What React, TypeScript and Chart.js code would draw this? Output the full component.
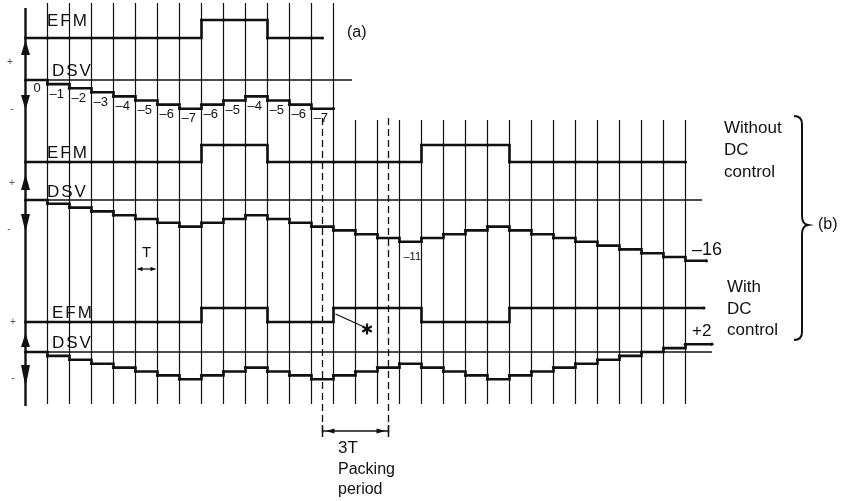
import React, { useEffect, useRef } from "react";
import { Chart, registerables } from "chart.js";

Chart.register(...registerables);

// ---------------- data ----------------
// clock-period boundaries (in units of T)
const clockEdges = [0, 1, 2, 3, 4, 5, 6, 7, 8, 9, 10, 11, 12, 13, 14, 15, 16, 17, 18, 19, 20, 21, 22, 23, 24, 25, 26, 27, 28, 29, 30];

// (a) EFM level per clock period (1 = high) and running DSV
const efmA = [0, 0, 0, 0, 0, 0, 0, 0, 1, 1, 1, 0, 0, 0];
const dsvA = [0, -1, -2, -3, -4, -5, -6, -7, -6, -5, -4, -5, -6, -7];

// (b) without DC control
const efmB = [0, 0, 0, 0, 0, 0, 0, 0, 1, 1, 1, 0, 0, 0, 0, 0, 0, 0, 1, 1, 1, 1, 0, 0, 0, 0, 0, 0, 0, 0];
const dsvB = [0, -1, -2, -3, -4, -5, -6, -7, -6, -5, -4, -5, -6, -7, -8, -9, -10, -11, -10, -9, -8, -7, -8, -9, -10, -11, -12, -13, -14, -15, -16];

// (b) with DC control
const efmC = [0, 0, 0, 0, 0, 0, 0, 0, 1, 1, 1, 0, 0, 0, 1, 1, 1, 1, 0, 0, 0, 0, 1, 1, 1, 1, 1, 1, 1, 1];
const dsvC = [0, -1, -2, -3, -4, -5, -6, -7, -6, -5, -4, -5, -6, -7, -6, -5, -4, -3, -4, -5, -6, -7, -6, -5, -4, -3, -2, -1, 0, 1, 2];

// packing period (3T) boundaries, in units of T
const packingPeriod = [13.5, 16.5];

// ---------------- layout / style ----------------
const W = 844;
const H = 501;
const X0 = 25.5; // pixel of t = 0
const TPX = 22; // pixels per T
const FONT = '"Liberation Sans", Arial, Helvetica, sans-serif';
const INK = "#111";

function rowAxis(zeroPx: number, ppu: number) {
  return {
    type: "linear" as const,
    axis: "y" as const,
    position: "left" as const,
    display: false,
    bounds: "data" as const,
    min: -(H - zeroPx) / ppu,
    max: zeroPx / ppu,
  };
}

function stepPoints(values: number[], endX: number) {
  const pts = values.map((v, i) => ({ x: i, y: v }));
  pts.push({ x: endX, y: values[values.length - 1] });
  return pts;
}

function lineDs(data: any[], yAxisID: string, width: number) {
  return {
    data,
    yAxisID,
    xAxisID: "x",
    stepped: "before" as const,
    borderColor: INK,
    borderWidth: width,
    pointRadius: 1.6,
    pointBackgroundColor: INK,
    pointBorderWidth: 0,
    fill: false,
    tension: 0,
  };
}

function txt(ctx: CanvasRenderingContext2D, s: string, x: number, y: number, size: number, align: CanvasTextAlign = "left", spacing = 0) {
  ctx.font = `${size}px ${FONT}`;
  ctx.textAlign = align;
  ctx.textBaseline = "middle";
  (ctx as any).letterSpacing = `${spacing}px`;
  ctx.fillText(s, x, y);
  (ctx as any).letterSpacing = "0px";
}

function tri(ctx: CanvasRenderingContext2D, tipX: number, tipY: number, baseX: number, baseY: number, half: number) {
  const dx = tipX - baseX;
  const dy = tipY - baseY;
  const len = Math.hypot(dx, dy) || 1;
  const nx = -dy / len;
  const ny = dx / len;
  ctx.beginPath();
  ctx.moveTo(tipX, tipY);
  ctx.lineTo(baseX + nx * half, baseY + ny * half);
  ctx.lineTo(baseX - nx * half, baseY - ny * half);
  ctx.closePath();
  ctx.fill();
}

function seg(ctx: CanvasRenderingContext2D, x1: number, y1: number, x2: number, y2: number) {
  ctx.beginPath();
  ctx.moveTo(x1, y1);
  ctx.lineTo(x2, y2);
  ctx.stroke();
}

const diagramPlugin = {
  id: "diagram",
  beforeDatasetsDraw(chart: any) {
    const ctx: CanvasRenderingContext2D = chart.ctx;
    const s = chart.scales;
    const X = (t: number) => s.x.getPixelForValue(t);
    const LY = (p: number) => s.ly.getPixelForValue(p);
    ctx.save();
    ctx.strokeStyle = INK;
    // clock grid
    for (const k of clockEdges) {
      const x = X(k);
      if (k === 0) {
        ctx.lineWidth = 2.4;
        seg(ctx, x, LY(8), x, LY(406));
      } else {
        ctx.lineWidth = 1.2;
        const top = k <= 14 ? LY(3) : LY(120);
        seg(ctx, x, top, x, LY(404));
      }
    }
    // DSV reference (zero) lines
    ctx.lineWidth = 1.6;
    seg(ctx, X(0), s.dsvA.getPixelForValue(0), X(14.84), s.dsvA.getPixelForValue(0));
    seg(ctx, X(0), s.dsvB.getPixelForValue(0), X(30.75), s.dsvB.getPixelForValue(0));
    seg(ctx, X(0), s.dsvC.getPixelForValue(0), X(31.2), s.dsvC.getPixelForValue(0));
    // packing-period dashed boundaries
    ctx.lineWidth = 1.3;
    ctx.setLineDash([7, 4]);
    for (const p of packingPeriod) seg(ctx, X(p), LY(118), X(p), LY(437));
    ctx.setLineDash([]);
    ctx.restore();
  },
  afterDatasetsDraw(chart: any) {
    const ctx: CanvasRenderingContext2D = chart.ctx;
    const s = chart.scales;
    const X = (t: number) => s.x.getPixelForValue(t);
    const LX = (p: number) => s.lx.getPixelForValue(p);
    const LY = (p: number) => s.ly.getPixelForValue(p);
    ctx.save();
    ctx.fillStyle = INK;
    ctx.strokeStyle = INK;

    // double arrows on the left axis (+ / - DSV)
    const ax = X(0);
    const arrows = [
      [40, 55, 95, 110],
      [174, 190, 214, 232],
      [333, 347, 365, 387],
    ];
    for (const [upTip, upBase, dnBase, dnTip] of arrows) {
      tri(ctx, ax, LY(upTip), ax, LY(upBase), 4.5);
      tri(ctx, ax, LY(dnTip), ax, LY(dnBase), 4.5);
    }
    ctx.fillStyle = "#555";
    const signs: [string, number, number][] = [
      ["+", 10, 62], ["-", 12, 109],
      ["+", 12, 183], ["-", 9, 229],
      ["+", 13, 322], ["-", 13, 378],
    ];
    for (const [c, x, y] of signs) txt(ctx, c, LX(x), LY(y), 10, "center");
    ctx.fillStyle = INK;

    // row titles
    const titles: [string, number, number][] = [
      ["EFM", 47, 21], ["DSV", 52, 71],
      ["EFM", 47, 153], ["DSV", 47, 192],
      ["EFM", 52, 313], ["DSV", 52, 343],
    ];
    for (const [t, x, y] of titles) txt(ctx, t, LX(x), LY(y), 17, "left", 2);

    // DSV value labels of (a)
    dsvA.forEach((v, i) => {
      const label = v === 0 ? "0" : "\u2013" + Math.abs(v);
      const px = v === 0 ? X(i) + 8 : X(i) + 2;
      const py = s.dsvA.getPixelForValue(v) + (v === 0 ? 8 : 10);
      txt(ctx, label, px, py, 13, "left");
    });

    // other labels
    txt(ctx, "(a)", LX(347), LY(33), 16);
    txt(ctx, "\u201311", X(17) + 4, s.dsvB.getPixelForValue(dsvB[17]) + 15, 11);
    txt(ctx, "\u201316", LX(692), LY(250), 18);
    txt(ctx, "+2", LX(692), LY(331), 17);
    txt(ctx, "Without", LX(724), LY(128), 17);
    txt(ctx, "DC", LX(724), LY(150), 17);
    txt(ctx, "control", LX(724), LY(172), 17);
    txt(ctx, "With", LX(727), LY(287), 17);
    txt(ctx, "DC", LX(727), LY(309), 17);
    txt(ctx, "control", LX(727), LY(330), 17);
    txt(ctx, "(b)", LX(818), LY(225), 16);

    // brace
    ctx.lineWidth = 2;
    ctx.beginPath();
    const bx = LX(802);
    ctx.moveTo(LX(794), LY(116));
    ctx.quadraticCurveTo(bx, LY(116), bx, LY(124));
    ctx.lineTo(bx, LY(216));
    ctx.quadraticCurveTo(bx, LY(224), LX(808), LY(225));
    ctx.quadraticCurveTo(bx, LY(226), bx, LY(234));
    ctx.lineTo(bx, LY(332));
    ctx.quadraticCurveTo(bx, LY(340), LX(794), LY(340));
    ctx.stroke();

    // T marker
    txt(ctx, "T", (X(5) + X(6)) / 2, LY(253), 15, "center");
    ctx.lineWidth = 1.3;
    const ty = LY(269);
    seg(ctx, X(5) + 2, ty, X(6) - 2, ty);
    tri(ctx, X(5) + 2, ty, X(5) + 7, ty, 2.2);
    tri(ctx, X(6) - 2, ty, X(6) - 7, ty, 2.2);

    // 3T packing period dimension
    const dy = LY(431);
    const p0 = X(packingPeriod[0]);
    const p1 = X(packingPeriod[1]);
    ctx.lineWidth = 1.5;
    seg(ctx, p0, dy, p1, dy);
    seg(ctx, p0, dy - 6, p0, dy + 6);
    seg(ctx, p1, dy - 6, p1, dy + 6);
    tri(ctx, p0 + 3, dy, p0 + 12, dy, 2.6);
    tri(ctx, p1 - 3, dy, p1 - 12, dy, 2.6);
    txt(ctx, "3T", LX(338), LY(448), 17);
    txt(ctx, "Packing", LX(338), LY(470), 16);
    txt(ctx, "period", LX(338), LY(490), 16);

    // asterisk pointer
    const sx = X(14) + 2;
    const sy = s.efmC.getPixelForValue(1) + 6;
    ctx.lineWidth = 1.3;
    seg(ctx, sx, sy, LX(362), LY(326));
    const cx = LX(367);
    const cy = LY(329);
    ctx.lineWidth = 2.2;
    for (const a of [90, 30, 150]) {
      const r = (a * Math.PI) / 180;
      seg(ctx, cx - Math.cos(r) * 5.5, cy - Math.sin(r) * 5.5, cx + Math.cos(r) * 5.5, cy + Math.sin(r) * 5.5);
    }
    ctx.restore();
  },
};

export default function App() {
  const canvasRef = useRef<HTMLCanvasElement | null>(null);

  useEffect(() => {
    const canvas = canvasRef.current;
    if (!canvas) return;
    const chart = new Chart(canvas, {
      type: "line",
      data: {
        datasets: [
          lineDs(stepPoints(efmA, 13.5), "efmA", 2.6),
          lineDs(stepPoints(dsvA, 14), "dsvA", 2.6),
          lineDs(stepPoints(efmB, 30), "efmB", 2.6),
          lineDs(stepPoints(dsvB, 30.95), "dsvB", 2.6),
          lineDs(stepPoints(efmC, 30.84), "efmC", 2.6),
          lineDs(stepPoints(dsvC, 31.2), "dsvC", 2.6),
        ],
      },
      options: {
        responsive: false,
        animation: false,
        devicePixelRatio: 1,
        events: [],
        layout: { padding: 0, autoPadding: false },
        plugins: { legend: { display: false }, tooltip: { enabled: false } },
        scales: {
          x: { type: "linear", display: false, bounds: "data", min: -X0 / TPX, max: (W - X0) / TPX },
          lx: { type: "linear", axis: "x", position: "bottom", display: false, bounds: "data", min: 0, max: W },
          ly: { type: "linear", axis: "y", position: "left", display: false, bounds: "data", min: 0, max: H, reverse: true },
          efmA: rowAxis(38, 18),
          dsvA: rowAxis(80, 4.1),
          efmB: rowAxis(162, 17),
          dsvB: rowAxis(200, 3.8),
          efmC: rowAxis(322, 14),
          dsvC: rowAxis(352, 3.9),
        },
      } as any,
      plugins: [diagramPlugin as any],
    });
    return () => chart.destroy();
  }, []);

  return (
    <div style={{ position: "fixed", left: 0, top: 0, width: W, height: H, background: "#fff" }}>
      <canvas ref={canvasRef} width={W} height={H} style={{ display: "block" }} />
    </div>
  );
}
